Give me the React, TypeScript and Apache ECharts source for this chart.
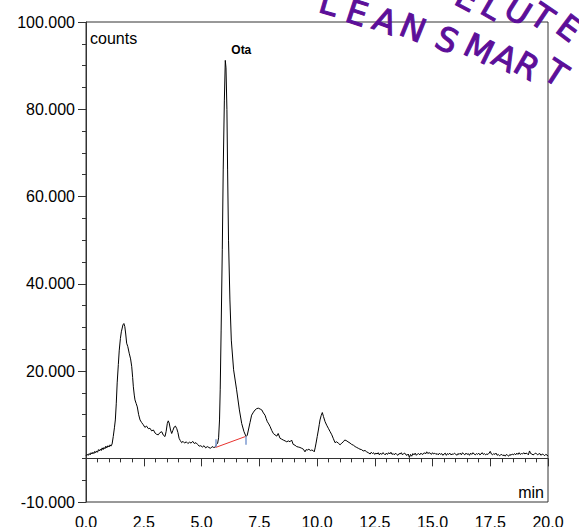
import React, { useEffect, useRef } from "react";
import * as echarts from "echarts";

// Chromatogram trace: retention time (min) and detector response (counts)
const retentionMin = [
  0.0, 0.05, 0.1, 0.14, 0.18, 0.22, 0.26, 0.3, 0.34, 0.38, 0.42, 0.46, 0.5, 0.54, 0.58, 0.62,
  0.66, 0.7, 0.74, 0.78, 0.82, 0.86, 0.9, 0.95, 1.0, 1.04, 1.08, 1.13,
  1.18, 1.23, 1.27, 1.31, 1.35, 1.4, 1.44, 1.49, 1.53, 1.6, 1.64, 1.68, 1.72, 1.76, 1.81, 1.87,
  1.93, 1.98, 2.02, 2.05, 2.09, 2.12, 2.17, 2.22, 2.28, 2.34, 2.41, 2.48, 2.55, 2.62, 2.7, 2.77,
  2.84, 2.92, 2.99, 3.06, 3.13, 3.2, 3.28, 3.35, 3.42, 3.47, 3.52, 3.56, 3.6, 3.66, 3.71, 3.76,
  3.82, 3.87, 3.93, 3.98, 4.03, 4.08, 4.14, 4.2, 4.27, 4.34, 4.41, 4.48, 4.55, 4.62, 4.69, 4.76,
  4.83, 4.9, 4.97, 5.04, 5.11, 5.18, 5.25, 5.32, 5.39, 5.46, 5.53, 5.6, 5.65, 5.7, 5.74, 5.78,
  5.81, 5.85, 5.9, 5.94, 5.99, 6.03, 6.06, 6.1, 6.13, 6.17, 6.23, 6.29, 6.39, 6.52, 6.64, 6.74,
  6.84, 6.93, 6.98, 7.03, 7.1, 7.17, 7.25, 7.32, 7.39, 7.46, 7.54, 7.61, 7.68, 7.75, 7.8, 7.85,
  7.91, 7.97, 8.04, 8.11, 8.18, 8.26, 8.32, 8.4, 8.47, 8.54, 8.62, 8.69, 8.76, 8.83, 8.9, 8.97,
  9.05, 9.12, 9.19, 9.26, 9.34, 9.41, 9.48, 9.53, 9.58, 9.65, 9.71, 9.77, 9.83, 9.88, 9.92, 9.96,
  10.01, 10.06, 10.1, 10.13, 10.18, 10.23, 10.28, 10.35, 10.42, 10.49, 10.56, 10.64, 10.71, 10.78,
  10.85, 10.92, 11.0, 11.07, 11.14, 11.2, 11.26, 11.34, 11.43, 11.5, 11.58, 11.65, 11.72, 11.79,
  11.86, 11.93, 12.0, 12.08, 12.15, 12.22, 12.3, 12.35, 12.4, 12.45, 12.5, 12.55, 12.6, 12.65,
  12.7, 12.75, 12.8, 12.85, 12.9, 12.95, 13.0, 13.05, 13.1, 13.15, 13.2, 13.25, 13.3, 13.35,
  13.4, 13.45, 13.5, 13.55, 13.6, 13.65, 13.7, 13.75, 13.8, 13.85, 13.9, 13.95, 14.0, 14.05,
  14.1, 14.15, 14.2, 14.25, 14.3, 14.35, 14.4, 14.45, 14.5, 14.55, 14.6, 14.65, 14.7, 14.75,
  14.8, 14.85, 14.9, 14.95, 15.0, 15.05, 15.1, 15.15, 15.2, 15.25, 15.3, 15.35, 15.4, 15.45,
  15.5, 15.55, 15.6, 15.65, 15.7, 15.75, 15.8, 15.85, 15.9, 15.95, 16.0, 16.05, 16.1, 16.15,
  16.2, 16.25, 16.3, 16.35, 16.4, 16.45, 16.5, 16.55, 16.6, 16.65, 16.7, 16.75, 16.8, 16.85,
  16.9, 16.95, 17.0, 17.05, 17.1, 17.15, 17.2, 17.25, 17.3, 17.35, 17.4, 17.45, 17.5, 17.55,
  17.6, 17.65, 17.7, 17.75, 17.8, 17.85, 17.9, 17.95, 18.0, 18.05, 18.1, 18.15, 18.2, 18.25,
  18.3, 18.35, 18.4, 18.45, 18.5, 18.55, 18.6, 18.65, 18.7, 18.75, 18.8, 18.85, 18.9, 18.95,
  19.0, 19.05, 19.1, 19.15, 19.2, 19.25, 19.3, 19.35, 19.4, 19.45, 19.5, 19.55, 19.6, 19.65,
  19.7, 19.75, 19.8, 19.85, 19.9, 19.95, 20.0,
];

const counts = [
  0.6, 0.9, 0.7, 1.1, 0.8, 1.3, 1.0, 1.4, 1.1, 1.6, 1.3, 1.7, 1.4, 2.0, 1.7, 2.1,
  1.8, 2.4, 2.0, 2.5, 2.2, 2.8, 2.4, 2.9, 2.6, 3.1, 2.8, 3.3,
  5.0, 7.0, 8.8, 12.5, 17.3, 21.5, 24.8, 27.5, 29.0, 30.6, 30.9, 30.2, 28.5, 26.4, 25.6, 24.1,
  22.8, 21.0, 18.5, 16.4, 14.5, 13.4, 12.6, 11.8, 10.0, 8.8, 8.2, 7.7, 7.1, 7.4, 6.8, 6.9,
  6.3, 6.5, 5.8, 5.5, 5.4, 5.9, 6.1, 5.3, 5.0, 6.2, 8.0, 8.6, 8.1, 6.5, 5.7, 6.4,
  7.2, 7.4, 6.8, 5.9, 4.6, 4.1, 3.6, 3.9, 3.5, 3.8, 3.4, 3.7, 3.5, 3.9, 3.4, 3.6,
  3.2, 2.8, 2.9, 2.6, 2.9, 2.4, 2.7, 2.5, 2.3, 2.7, 2.5, 2.6, 3.2, 3.5, 4.7, 8.8,
  15.7, 29.4, 47.8, 66.1, 82.1, 91.2, 89.5, 80.0, 66.1, 50.0, 36.3, 27.1, 20.3, 15.7, 11.1, 8.0,
  6.1, 5.0, 5.3, 6.5, 8.2, 9.9, 10.6, 11.1, 11.4, 11.5, 11.3, 11.1, 10.4, 9.9, 9.1, 8.4,
  7.9, 7.3, 6.4, 5.7, 5.4, 5.1, 5.7, 4.6, 4.4, 4.2, 4.0, 3.8, 4.0, 3.8, 4.2, 3.2,
  3.0, 2.7, 2.6, 2.5, 2.3, 2.1, 1.5, 2.0, 1.9, 2.1, 1.8, 1.9, 1.8, 1.5, 2.4, 3.5,
  5.0, 6.5, 7.8, 8.8, 9.8, 10.5, 9.6, 8.4, 7.6, 6.9, 6.2, 5.4, 4.5, 3.6,
  3.8, 3.5, 3.1, 3.5, 3.8, 4.2, 4.1, 3.8, 3.5, 3.2, 3.0, 2.7, 2.5, 2.3,
  2.1, 2.0, 1.7, 1.8, 1.5, 1.3, 1.0, 1.4, 1.1, 1.3, 0.9, 1.2, 1.0, 1.3,
  0.8, 1.2, 0.9, 1.3, 1.1, 0.8, 1.2, 0.9, 1.3, 1.0, 1.4, 0.9, 1.1, 0.8,
  1.2, 0.9, 0.7, 1.1, 1.0, 1.3, 0.8, 1.1, 1.2, 0.8, 0.7, 1.0, 0.2, 0.9,
  0.5, 1.1, 0.8, 1.2, 0.7, 1.0, 1.1, 0.8, 1.2, 0.9, 1.0, 1.3, 1.0, 1.5,
  1.1, 1.3, 1.2, 0.9, 1.3, 1.0, 1.2, 0.9, 1.1, 0.8, 1.2, 0.9, 1.1, 0.7,
  1.0, 1.2, 0.7, 1.1, 0.9, 1.2, 0.8, 1.0, 0.9, 1.2, 1.0, 0.7, 1.1, 0.9,
  1.2, 0.8, 1.3, 1.0, 0.8, 1.2, 0.9, 1.1, 0.7, 1.2, 0.9, 1.3, 1.0, 0.8,
  1.1, 0.9, 1.2, 0.8, 1.0, 1.3, 0.9, 1.1, 0.8, 1.0, 0.9, 1.2, 1.6, 1.0,
  0.8, 1.1, 0.9, 1.2, 0.7, 0.9, 0.6, 0.8, 0.9, 0.6, 0.8, 0.5, 0.9, 0.7,
  0.5, 0.9, 0.7, 1.0, 0.8, 1.1, 0.8, 1.2, 0.9, 1.3, 0.9, 1.1, 1.0, 1.3,
  1.0, 1.2, 1.1, 0.8, 1.7, 1.1, 1.0, 0.8, 0.9, 1.2, 1.1, 0.8, 1.0, 1.1,
  0.7, 1.0, 0.9, 0.6, 0.9, 0.8, 0.5,
];

// Integration of the Ota peak: baseline drop and start/end markers
const peakName = "Ota";
const peakApex = [6.03, 91.2];
const baselineStart = [5.61, 2.5];
const baselineEnd = [6.9, 5.0];
const startMarker = [[5.61, 2.6], [5.61, 4.4]];
const endMarker = [[6.93, 3.1], [6.93, 5.0]];

// Axis tick values
const yLabelValues = [-10, 20, 40, 60, 80, 100];
const watermarkLower = "LEAN SMART";
const watermarkUpper = "ELUTE";

const AXIS_COLOR = "#333";
const FONT = "Liberation Sans, Arial, sans-serif";
const STAMP_COLOR = "#5c0f99";

export default function App() {
  const ref = useRef<HTMLDivElement>(null);

  useEffect(() => {
    if (!ref.current) return;
    const chart = echarts.init(ref.current, undefined, { renderer: "svg" });

    const trace = retentionMin.map((t, i) => [t, counts[i]]);

    // Letters of the curved stamp text, set one by one along an arc
    const lowerPos = [
      [329, 3, -16], [357, 13, -18], [385, 21, -20], [413, 28, -22], null,
      [447, 40, -24], [479, 49, -26], [505, 58, -28], [527, 66, -30], [556, 73, -33],
    ];
    const upperPos = [
      [467, -2, -28], [492, 7, -30], [518, 11, -32], [542, 17, -34], [569, 28, -37],
    ];
    const letter = (ch: string, p: number[] | null) =>
      p
        ? {
            type: "text",
            x: p[0],
            y: p[1],
            rotation: (p[2] * Math.PI) / 180,
            z: 100,
            style: {
              text: ch,
              fill: STAMP_COLOR,
              stroke: STAMP_COLOR,
              lineWidth: 1,
              font: "33px 'DejaVu Sans', sans-serif",
              textAlign: "center",
              textVerticalAlign: "middle",
            },
          }
        : null;
    const stamp = [
      ...watermarkLower.split("").map((ch, i) => letter(ch, lowerPos[i] as any)),
      ...watermarkUpper.split("").map((ch, i) => letter(ch, upperPos[i])),
    ].filter(Boolean);

    chart.setOption({
      animation: false,
      backgroundColor: "#fff",
      grid: {
        left: 86,
        right: 31,
        top: 22,
        bottom: 25,
        show: true,
        borderColor: AXIS_COLOR,
        borderWidth: 1,
        containLabel: false,
        outerBoundsMode: "none",
      },
      xAxis: {
        type: "value",
        min: 0,
        max: 20,
        interval: 2.5,
        axisLine: { show: true, lineStyle: { color: AXIS_COLOR, width: 1 } },
        axisTick: { show: true, length: 8, lineStyle: { color: AXIS_COLOR } },
        minorTick: { show: true, splitNumber: 5, length: 4, lineStyle: { color: AXIS_COLOR } },
        splitLine: { show: false },
        minorSplitLine: { show: false },
        axisLabel: {
          margin: 12,
          color: "#000",
          fontSize: 16,
          fontFamily: FONT,
          formatter: (v: number) => v.toFixed(1),
        },
      },
      yAxis: [
        {
          type: "value",
          min: -10,
          max: 100,
          position: "left",
          axisLine: { show: true, lineStyle: { color: AXIS_COLOR, width: 1 } },
          axisTick: {
            show: true,
            length: 8,
            customValues: yLabelValues,
            lineStyle: { color: AXIS_COLOR },
          },
          splitLine: { show: false },
          axisLabel: {
            customValues: yLabelValues,
            margin: 11,
            color: "#000",
            fontSize: 16,
            fontFamily: FONT,
            formatter: (v: number) => v.toFixed(3),
          },
        },
        {
          type: "value",
          min: -10,
          max: 100,
          interval: 5,
          position: "left",
          axisLine: { show: false },
          axisTick: { show: true, length: 4, lineStyle: { color: AXIS_COLOR } },
          axisLabel: { show: false },
          splitLine: { show: false },
        },
      ],
      graphic: [
        {
          type: "text",
          x: 90,
          y: 38,
          style: {
            text: "counts",
            fill: "#000",
            font: `16px ${FONT}`,
            textVerticalAlign: "middle",
          },
        },
        {
          type: "text",
          x: 544,
          y: 492,
          style: {
            text: "min",
            fill: "#000",
            font: `16px ${FONT}`,
            textAlign: "right",
            textVerticalAlign: "middle",
          },
        },
        ...stamp,
      ],
      series: [
        {
          type: "line",
          data: trace,
          showSymbol: false,
          symbol: "none",
          lineStyle: { color: "#000", width: 1 },
          z: 3,
          markPoint: {
            symbol: "circle",
            symbolSize: 0,
            data: [{ coord: peakApex, value: peakName }],
            label: {
              show: true,
              position: "top",
              distance: 4,
              offset: [16, 0],
              formatter: peakName,
              color: "#000",
              fontSize: 12,
              fontWeight: "bold",
              fontFamily: FONT,
            },
          },
        },
        {
          type: "line",
          data: [baselineStart, baselineEnd],
          showSymbol: false,
          symbol: "none",
          lineStyle: { color: "#e8332f", width: 1 },
          z: 4,
          markLine: {
            silent: true,
            symbol: "none",
            label: { show: false },
            lineStyle: { color: "#7d9ad0", width: 1.5, type: "solid" },
            data: [
              [{ coord: startMarker[0] }, { coord: startMarker[1] }],
              [{ coord: endMarker[0] }, { coord: endMarker[1] }],
            ],
          },
        },
      ],
    });

    return () => chart.dispose();
  }, []);

  return (
    <div
      ref={ref}
      style={{ position: "absolute", left: 0, top: 0, width: 579, height: 527 }}
    />
  );
}
